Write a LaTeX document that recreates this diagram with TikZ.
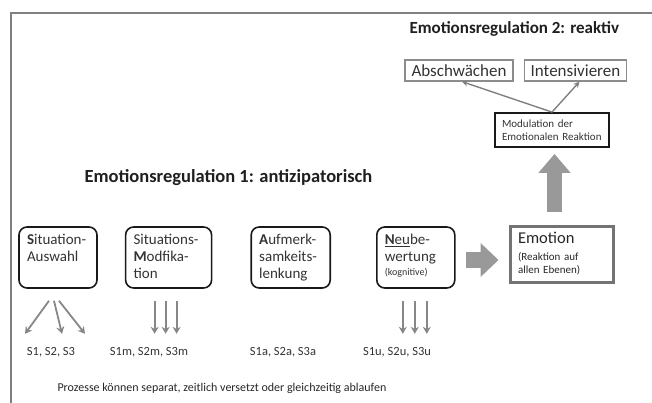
\documentclass[tikz,border=0pt]{standalone}
\usepackage{fontspec}
\setmainfont{Carlito}
\usetikzlibrary{positioning,arrows.meta}
\tikzset{proc node/.style={rectangle,rounded corners=8pt,draw=black!90,line width=1.6pt,minimum height=61pt,inner xsep=8pt,inner ysep=7.5pt,font=\fontsize{15}{17}\selectfont,text=black!80}}
\tikzset{out node/.style={rectangle,draw=black!45,line width=1.3pt,minimum height=21pt,inner xsep=6pt,font=\fontsize{17}{19}\selectfont,text=black!80}}
\tikzset{set label/.style={font=\fontsize{12.5}{14}\selectfont,text=black!80}}
\tikzset{small arrow/.style={draw=black!47,line width=1.8pt,-{Stealth[length=7pt,width=8pt]}}}
\tikzset{thin arrow/.style={draw=black!50,line width=1.4pt,-{Stealth[length=6pt,width=6pt]}}}
\tikzset{big arrow/.style={draw=black!40,-{Triangle[length=18pt,width=33pt]}}}
\newcommand{\proctext}[2]{\parbox[t][46pt][t]{#1}{\raggedright #2}}

\begin{document}
\begin{tikzpicture}[x=1pt,y=-1pt]
            \useasboundingbox (0,0) rectangle (652,403);
            \draw[draw=black!50,line width=2.5pt] (652,13) -- (11,13) -- (11,403);

            % titles
            \node[anchor=west,font=\fontsize{17}{20}\selectfont\bfseries,text=black!88] (t2) at (406,29) {Emotionsregulation 2: reaktiv};
            \node[anchor=west,font=\fontsize{18.5}{22}\selectfont\bfseries,text=black!88] (t1) at (81,178) {Emotionsregulation 1: antizipatorisch};

            % antizipatorische Prozesse
            \node[proc node,minimum width=78pt] (sit) at (58,257.5) {\proctext{62pt}{\textbf{S}ituation-\\Auswahl}};
            \node[proc node,minimum width=86pt] (mod) [right = 27pt of sit] {\proctext{70pt}{Situations-\\\textbf{M}odfika-\\tion}};
            \node[proc node,minimum width=79pt] (auf) [right = 38pt of mod] {\proctext{63pt}{\textbf{A}ufmerk-\\samkeits-\\lenkung}};
            \node[proc node,minimum width=78pt] (neu) [right = 45pt of auf] {\proctext{62pt}{\underline{\textbf{N}eu}be-\\wertung\\[-3pt]{\fontsize{10}{12}\selectfont(kognitive)}}};

            \node[set label] (lsit) at (51,352) {S1, S2, S3};
            \node[set label] (lmod) at (149,352) {S1m, S2m, S3m};
            \node[set label] (lauf) at (283,352) {S1a, S2a, S3a};
            \node[set label] (lneu) at (397,352) {S1u, S2u, S3u};

            % reaktive Prozesse
            \node[rectangle,draw=black!55,line width=3pt,minimum height=56pt,inner xsep=8pt,text width=87pt,align=left,font=\fontsize{11}{13.5}\selectfont,text=black!85] (emo) at (561.5,254) {{\fontsize{16.5}{18}\selectfont Emotion}\\[3pt](Reaktion auf\\allen Ebenen)};
            \node[rectangle,draw=black!90,line width=1.8pt,minimum height=34pt,inner xsep=7pt,text width=100pt,align=left,font=\fontsize{11}{13.5}\selectfont,text=black!80] (modu) at (552,130) {Modulation der\\Emotionalen Reaktion};
            \node[out node,minimum width=108pt] (abs) at (459,70.5) {Abschwächen};
            \node[out node,minimum width=95pt] (int) at (575.5,70.5) {Intensivieren};

            \path[every edge/.style={small arrow}]
            ([xshift=-9pt,yshift=-12pt]sit.south) edge ([xshift=-33pt,yshift=-45pt]sit.south)
            ([xshift=-4pt,yshift=-12pt]sit.south) edge ([xshift=4pt,yshift=-45pt]sit.south)
            ([xshift=1pt,yshift=-12pt]sit.south) edge ([xshift=27pt,yshift=-45pt]sit.south)
            ([xshift=-14pt,yshift=-12pt]mod.south) edge ([xshift=-14pt,yshift=-45pt]mod.south)
            ([xshift=-3pt,yshift=-12pt]mod.south) edge ([xshift=-3pt,yshift=-45pt]mod.south)
            ([xshift=8pt,yshift=-12pt]mod.south) edge ([xshift=8pt,yshift=-45pt]mod.south)
            ([xshift=-13pt,yshift=-12pt]neu.south) edge ([xshift=-13pt,yshift=-45pt]neu.south)
            ([xshift=-1pt,yshift=-12pt]neu.south) edge ([xshift=-1pt,yshift=-45pt]neu.south)
            ([xshift=11pt,yshift=-12pt]neu.south) edge ([xshift=11pt,yshift=-45pt]neu.south);

            \path[every edge/.style={thin arrow}]
            (modu.north) edge ([xshift=3pt]abs.south)
            (modu.north) edge ([xshift=4pt]int.south);

            \draw[big arrow,line width=16pt] ([xshift=10pt,yshift=-2.5pt]neu.east) -- ([xshift=-10pt,yshift=-6pt]emo.west);
            \draw[big arrow,line width=15pt,-{Triangle[length=19pt,width=31pt]}] ([xshift=-7pt,yshift=13pt]emo.north) -- ([xshift=2.5pt,yshift=-6pt]modu.south);

            \node[anchor=west,font=\fontsize{12}{14}\selectfont,text=black!85] (note) at (54,388) {Prozesse können separat, zeitlich versetzt oder gleichzeitig ablaufen};
        \end{tikzpicture}
\end{document}
